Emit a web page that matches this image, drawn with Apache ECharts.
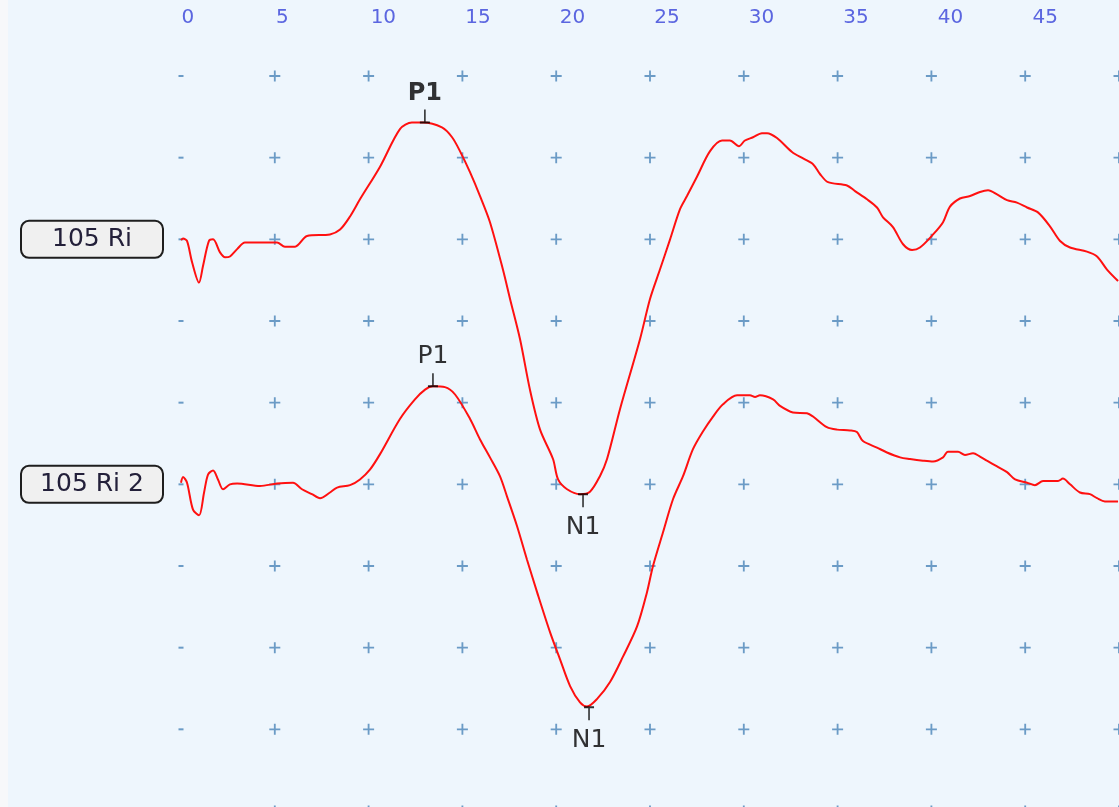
<!DOCTYPE html>
<html>
<head>
<meta charset="utf-8">
<title>VEMP traces</title>
<script src="https://cdn.jsdelivr.net/npm/echarts@6/dist/echarts.min.js"></script>
<style>
  html, body { margin: 0; padding: 0; background: #eef6fd; }
  #chart { width: 1119px; height: 807px; }
</style>
</head>
<body>
<div id="chart"></div>
<script>
// trace names and where each trace sits (in grid rows)
const traceNames = ['105 Ri', '105 Ri 2']
const traceBaselines = [7, 4]

// top axis labels (ms)
const tickLabels = [0, 5, 10, 15, 20, 25, 30, 35, 40, 45]

// grid of "+" marks
const gridCols = [0, 5, 10, 15, 20, 25, 30, 35, 40, 45, 50]
const gridRows = [0, 1, 2, 3, 4, 5, 6, 7, 8, 9]

// trace 1 (105 Ri): time in ms, amplitude in grid divisions
const trace1Ms = [0.0, 0.11, 0.32, 0.59, 0.96, 1.17, 1.49, 1.71, 2.08, 2.35, 2.61, 2.99, 3.41, 4.58, 5.12, 5.54, 6.08, 6.72, 7.94, 8.48,
  9.01, 9.54, 10.61, 11.67, 12.31, 12.90, 13.91, 14.45, 14.87, 15.41, 15.94, 16.47, 17.16, 17.54, 18.07, 18.60, 19.14, 19.83, 20.10, 20.58,
  21.27, 21.80, 22.33, 22.71, 23.40, 24.47, 25.00, 25.53, 26.07, 26.60, 26.97, 27.51, 28.20, 28.84, 29.26, 29.74, 30.06, 30.49, 30.97, 31.24,
  31.77, 32.57, 33.16, 33.69, 34.06, 34.49, 35.50, 35.93, 36.57, 37.10, 37.42, 37.95, 38.49, 38.97, 39.39, 40.09, 40.62, 40.99, 41.52, 42.06,
  42.59, 43.02, 43.50, 44.03, 44.56, 45.10, 45.68, 46.32, 46.86, 47.39, 48.29, 48.83, 49.36, 49.95]
const trace1Amp = [-0.01, 0.01, -0.02, -0.28, -0.53, -0.33, -0.02, 0.0, -0.16, -0.22, -0.21, -0.12, -0.04, -0.04, -0.04, -0.09, -0.09, 0.04, 0.06, 0.12,
  0.28, 0.49, 0.89, 1.35, 1.43, 1.43, 1.37, 1.25, 1.08, 0.82, 0.53, 0.21, -0.37, -0.73, -1.22, -1.84, -2.33, -2.69, -2.94, -3.06,
  -3.12, -3.09, -2.90, -2.69, -2.08, -1.22, -0.73, -0.37, 0.0, 0.37, 0.53, 0.77, 1.08, 1.21, 1.21, 1.14, 1.21, 1.25, 1.30, 1.30,
  1.24, 1.07, 0.99, 0.92, 0.80, 0.70, 0.66, 0.59, 0.49, 0.39, 0.27, 0.15, -0.06, -0.13, -0.10, 0.06, 0.21, 0.40, 0.50, 0.53,
  0.58, 0.60, 0.55, 0.48, 0.45, 0.39, 0.33, 0.16, -0.02, -0.10, -0.15, -0.21, -0.37, -0.51]

// trace 2 (105 Ri 2)
const trace2Ms = [0.0, 0.11, 0.32, 0.64, 0.96, 1.23, 1.44, 1.71, 1.97, 2.24, 2.61, 2.99, 4.21, 5.12, 5.97, 6.45, 6.98, 7.41, 7.94, 8.32,
  9.01, 9.54, 10.07, 10.61, 11.67, 12.47, 13.01, 13.43, 14.07, 14.61, 15.41, 15.94, 16.47, 17.00, 17.38, 17.91, 18.44, 18.98, 19.67, 20.20,
  20.74, 21.27, 21.64, 22.17, 22.87, 23.56, 24.31, 24.84, 25.16, 25.69, 26.23, 26.76, 27.29, 27.83, 28.36, 28.89, 29.64, 30.33, 30.60, 30.86,
  31.56, 31.93, 32.62, 33.37, 33.69, 34.43, 34.97, 35.66, 36.03, 36.35, 37.10, 37.63, 38.33, 38.86, 39.55, 40.09, 40.62, 40.88, 41.42, 41.79,
  42.22, 42.59, 42.96, 43.50, 44.03, 44.46, 45.10, 45.52, 45.95, 46.75, 47.01, 47.39, 47.92, 48.45, 48.83, 49.25, 49.95]
const trace2Amp = [0.02, 0.09, 0.02, -0.31, -0.38, -0.10, 0.12, 0.17, 0.06, -0.06, 0.0, 0.01, -0.02, 0.01, 0.02, -0.06, -0.12, -0.17, -0.10, -0.04,
  -0.01, 0.06, 0.18, 0.37, 0.80, 1.04, 1.16, 1.20, 1.19, 1.10, 0.80, 0.55, 0.33, 0.10, -0.15, -0.51, -0.92, -1.32, -1.81, -2.14,
  -2.47, -2.67, -2.72, -2.63, -2.42, -2.11, -1.74, -1.32, -1.00, -0.59, -0.18, 0.10, 0.43, 0.65, 0.83, 0.98, 1.09, 1.09, 1.07, 1.09,
  1.04, 0.96, 0.88, 0.87, 0.83, 0.70, 0.67, 0.66, 0.64, 0.53, 0.45, 0.39, 0.33, 0.31, 0.29, 0.28, 0.33, 0.40, 0.40, 0.36,
  0.38, 0.34, 0.29, 0.22, 0.15, 0.06, 0.02, -0.01, 0.04, 0.04, 0.07, 0.0, -0.10, -0.12, -0.17, -0.21, -0.21]

// peak markers
const peakNames = ['P1', 'N1', 'P1', 'N1']
const peakTrace = [0, 0, 1, 1]
const peakMs = [13.0, 21.43, 13.43, 21.75]
const peakAmp = [1.43, -3.12, 1.20, -2.73]
const selectedPeak = 0

const PLUS = 'path://M5,0h2v5h5v2h-5v5h-2v-5h-5v-2h5z'
const UP_TICK = 'path://M4.2,0h1.6v12h4.2v2h-10v-2h4.2z'
const DOWN_TICK = 'path://M0,0h10v2h-4.2v12h-1.6v-12h-4.2z'

const chart = echarts.init(document.getElementById('chart'))

function traceData(ms, amp, base) {
  return ms.map((t, i) => [t, base + amp[i]])
}

const marks = []
gridCols.forEach(c => gridRows.forEach(r => marks.push([c, r])))

const peaks = peakNames.map((name, i) => {
  const up = name.charAt(0) === 'P'
  return {
    name: name,
    value: [peakMs[i], traceBaselines[peakTrace[i]] + peakAmp[i]],
    symbol: up ? UP_TICK : DOWN_TICK,
    symbolOffset: [0, up ? -6 : 6],
    label: {
      position: up ? 'top' : 'bottom',
      distance: up ? 4 : 8,
      fontWeight: i === selectedPeak ? 'bold' : 'normal',
      fontSize: i === selectedPeak ? 24 : 25
    }
  }
})

chart.setOption({
  backgroundColor: '#eef6fd',
  animation: false,
  graphic: [
    { type: 'rect', left: 0, top: 0, shape: { width: 8, height: 807 }, style: { fill: '#f7f8fa' }, z: -1 }
  ],
  grid: { left: 181, top: 76, width: 938, height: 735, outerBoundsMode: 'none', containLabel: false },
  xAxis: [
    {
      type: 'value', min: 0, max: 50, show: false
    },
    {
      type: 'value', position: 'top', min: -0.03, max: 49.58,
      axisLine: { show: false }, axisTick: { show: false }, splitLine: { show: false },
      axisLabel: {
        customValues: tickLabels,
        align: 'left',
        margin: 48,
        fontSize: 20,
        fontFamily: 'DejaVu Sans',
        color: '#5b66e0'
      }
    }
  ],
  yAxis: {
    type: 'value', min: 0, max: 9,
    axisLine: { show: false }, axisTick: { show: false }, splitLine: { show: false },
    axisLabel: {
      customValues: traceBaselines,
      margin: 19,
      formatter: v => '{b|' + traceNames[traceBaselines.indexOf(v)] + '}',
      backgroundColor: '#f0f0f0',
      borderColor: '#1e1e1e',
      borderWidth: 2,
      borderRadius: 7,
      padding: [3, 0, 3, 0],
      rich: {
        b: {
          width: 140,
          align: 'center',
          fontSize: 25,
          lineHeight: 29,
          fontFamily: 'DejaVu Sans',
          color: '#23203a'
        }
      }
    }
  },
  series: [
    {
      type: 'scatter',
      silent: true,
      z: 1,
      data: marks,
      symbol: v => (v[0] === 0 ? 'rect' : PLUS),
      symbolSize: v => (v[0] === 0 ? [5, 2] : 11),
      itemStyle: { color: '#4a84b8' }
    },
    {
      name: traceNames[0],
      type: 'line',
      z: 2,
      showSymbol: false,
      smooth: 0.3,
      data: traceData(trace1Ms, trace1Amp, traceBaselines[0]),
      lineStyle: { color: '#ff1010', width: 2 }
    },
    {
      name: traceNames[1],
      type: 'line',
      z: 2,
      showSymbol: false,
      smooth: 0.3,
      data: traceData(trace2Ms, trace2Amp, traceBaselines[1]),
      lineStyle: { color: '#ff1010', width: 2 }
    },
    {
      type: 'scatter',
      z: 3,
      silent: true,
      symbolSize: [10, 14],
      data: peaks,
      itemStyle: { color: '#000000' },
      label: {
        show: true,
        formatter: '{b}',
        color: '#000000',
        fontFamily: 'DejaVu Sans'
      }
    }
  ]
})
</script>
</body>
</html>
